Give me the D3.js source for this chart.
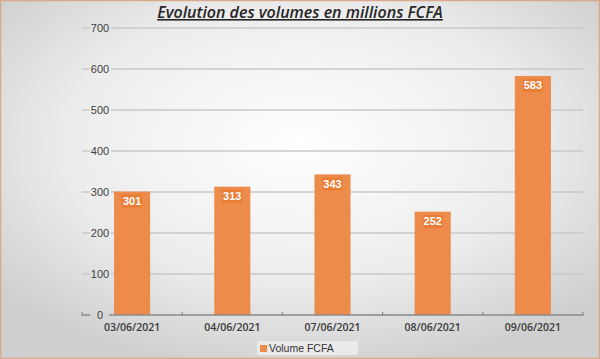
<!DOCTYPE html>
<html><head><meta charset="utf-8">
<script src="https://cdn.jsdelivr.net/npm/d3@7"></script>
<style>body{margin:0;padding:0;overflow:hidden}svg{display:block}</style>
</head><body>
<svg id="c" width="600" height="359"></svg>
<script>
(function(){
const categories = ["03/06/2021","04/06/2021","07/06/2021","08/06/2021","09/06/2021"];
const values = [301,313,343,252,583];
const yTicks = [0,100,200,300,400,500,600,700];
const seriesName = "Volume FCFA";
const title = "Evolution des volumes en millions FCFA";

const svg = d3.select("#c");
const W=600,H=359;
const defs = svg.append("defs");
const rg = defs.append("radialGradient").attr("id","bg").attr("cx","50%").attr("cy","40%").attr("r","65%");
rg.append("stop").attr("offset","0%").attr("stop-color","#ffffff");
rg.append("stop").attr("offset","60%").attr("stop-color","#ececec");
rg.append("stop").attr("offset","100%").attr("stop-color","#cfcfcf");
svg.append("rect").attr("x",0.5).attr("y",0.5).attr("width",W-1).attr("height",H-1)
  .attr("fill","url(#bg)").attr("stroke","#d9a98a").attr("stroke-width",1.5);

const pl=82,pr=583,pt=28,pb=315;
const x = d3.scaleBand().domain(categories).range([pl,pr]).paddingInner(0.64).paddingOuter(0.32);
const y = d3.scaleLinear().domain([0,700]).range([pb,pt]);

const g = svg.append("g");
yTicks.forEach(t=>{
  if(t===0) return;
  g.append("line").attr("x1",pl).attr("x2",90).attr("y1",y(t)).attr("y2",y(t)).attr("stroke","#c8c8c8").attr("stroke-width",1.5);
  g.append("line").attr("x1",111).attr("x2",pr).attr("y1",y(t)).attr("y2",y(t)).attr("stroke","#c8c8c8").attr("stroke-width",1.5);
});
yTicks.forEach(t=>{
  svg.append("text").attr("x",100).attr("y",y(t)).attr("dy","0.35em").attr("text-anchor","middle")
    .attr("font-family","Liberation Sans").attr("font-size",11).attr("fill","#404040").text(t);
});
svg.selectAll(".bar").data(values).enter().append("rect")
  .attr("x",(d,i)=>x(categories[i])).attr("width",x.bandwidth())
  .attr("y",d=>y(d)).attr("height",d=>y(0)-y(d)).attr("fill","#ed8b4a");
svg.append("line").attr("x1",pl).attr("x2",90).attr("y1",pb).attr("y2",pb).attr("stroke","#8a8a8a").attr("stroke-width",1.5);
svg.append("line").attr("x1",109).attr("x2",pr).attr("y1",pb).attr("y2",pb).attr("stroke","#8a8a8a").attr("stroke-width",1.5);
const step = (pr-pl)/categories.length;
d3.range(categories.length+1).forEach(i=>{
  svg.append("line").attr("x1",pl+i*step).attr("x2",pl+i*step).attr("y1",pb-3).attr("y2",pb+1).attr("stroke","#8a8a8a").attr("stroke-width",1.2);
});
categories.forEach(c=>{
  svg.append("text").attr("x",x(c)+x.bandwidth()/2).attr("y",331).attr("text-anchor","middle")
    .attr("font-family","Open Sans").attr("font-weight",600).attr("font-size",10.5).attr("fill","#3a3a3a").text(c);
});
values.forEach((v,i)=>{
  const cx = x(categories[i])+x.bandwidth()/2;
  svg.append("rect").attr("x",cx-10).attr("y",y(v)+3).attr("width",20).attr("height",13).attr("fill","#e87d35");
  svg.append("text").attr("x",cx).attr("y",y(v)+13.5).attr("text-anchor","middle")
    .attr("font-family","Liberation Sans").attr("font-weight","bold").attr("font-size",11).attr("fill","#ffffff").text(v);
});
svg.append("text").attr("x",300).attr("y",18).attr("text-anchor","middle")
  .attr("font-family","Open Sans").attr("font-style","italic").attr("font-weight",600).attr("font-size",16)
  .attr("fill","#262626").attr("text-decoration","underline").text(title);
const lg = svg.append("g");
lg.append("rect").attr("x",257).attr("y",341).attr("width",101).attr("height",14).attr("fill","#eaeaea");
lg.append("rect").attr("x",260).attr("y",345).attr("width",7).attr("height",7).attr("fill","#ed8b4a");
lg.append("text").attr("x",269).attr("y",352).attr("font-family","Liberation Sans").attr("font-size",10.5).attr("fill","#333").text(seriesName);
})();
</script>
</body></html>
